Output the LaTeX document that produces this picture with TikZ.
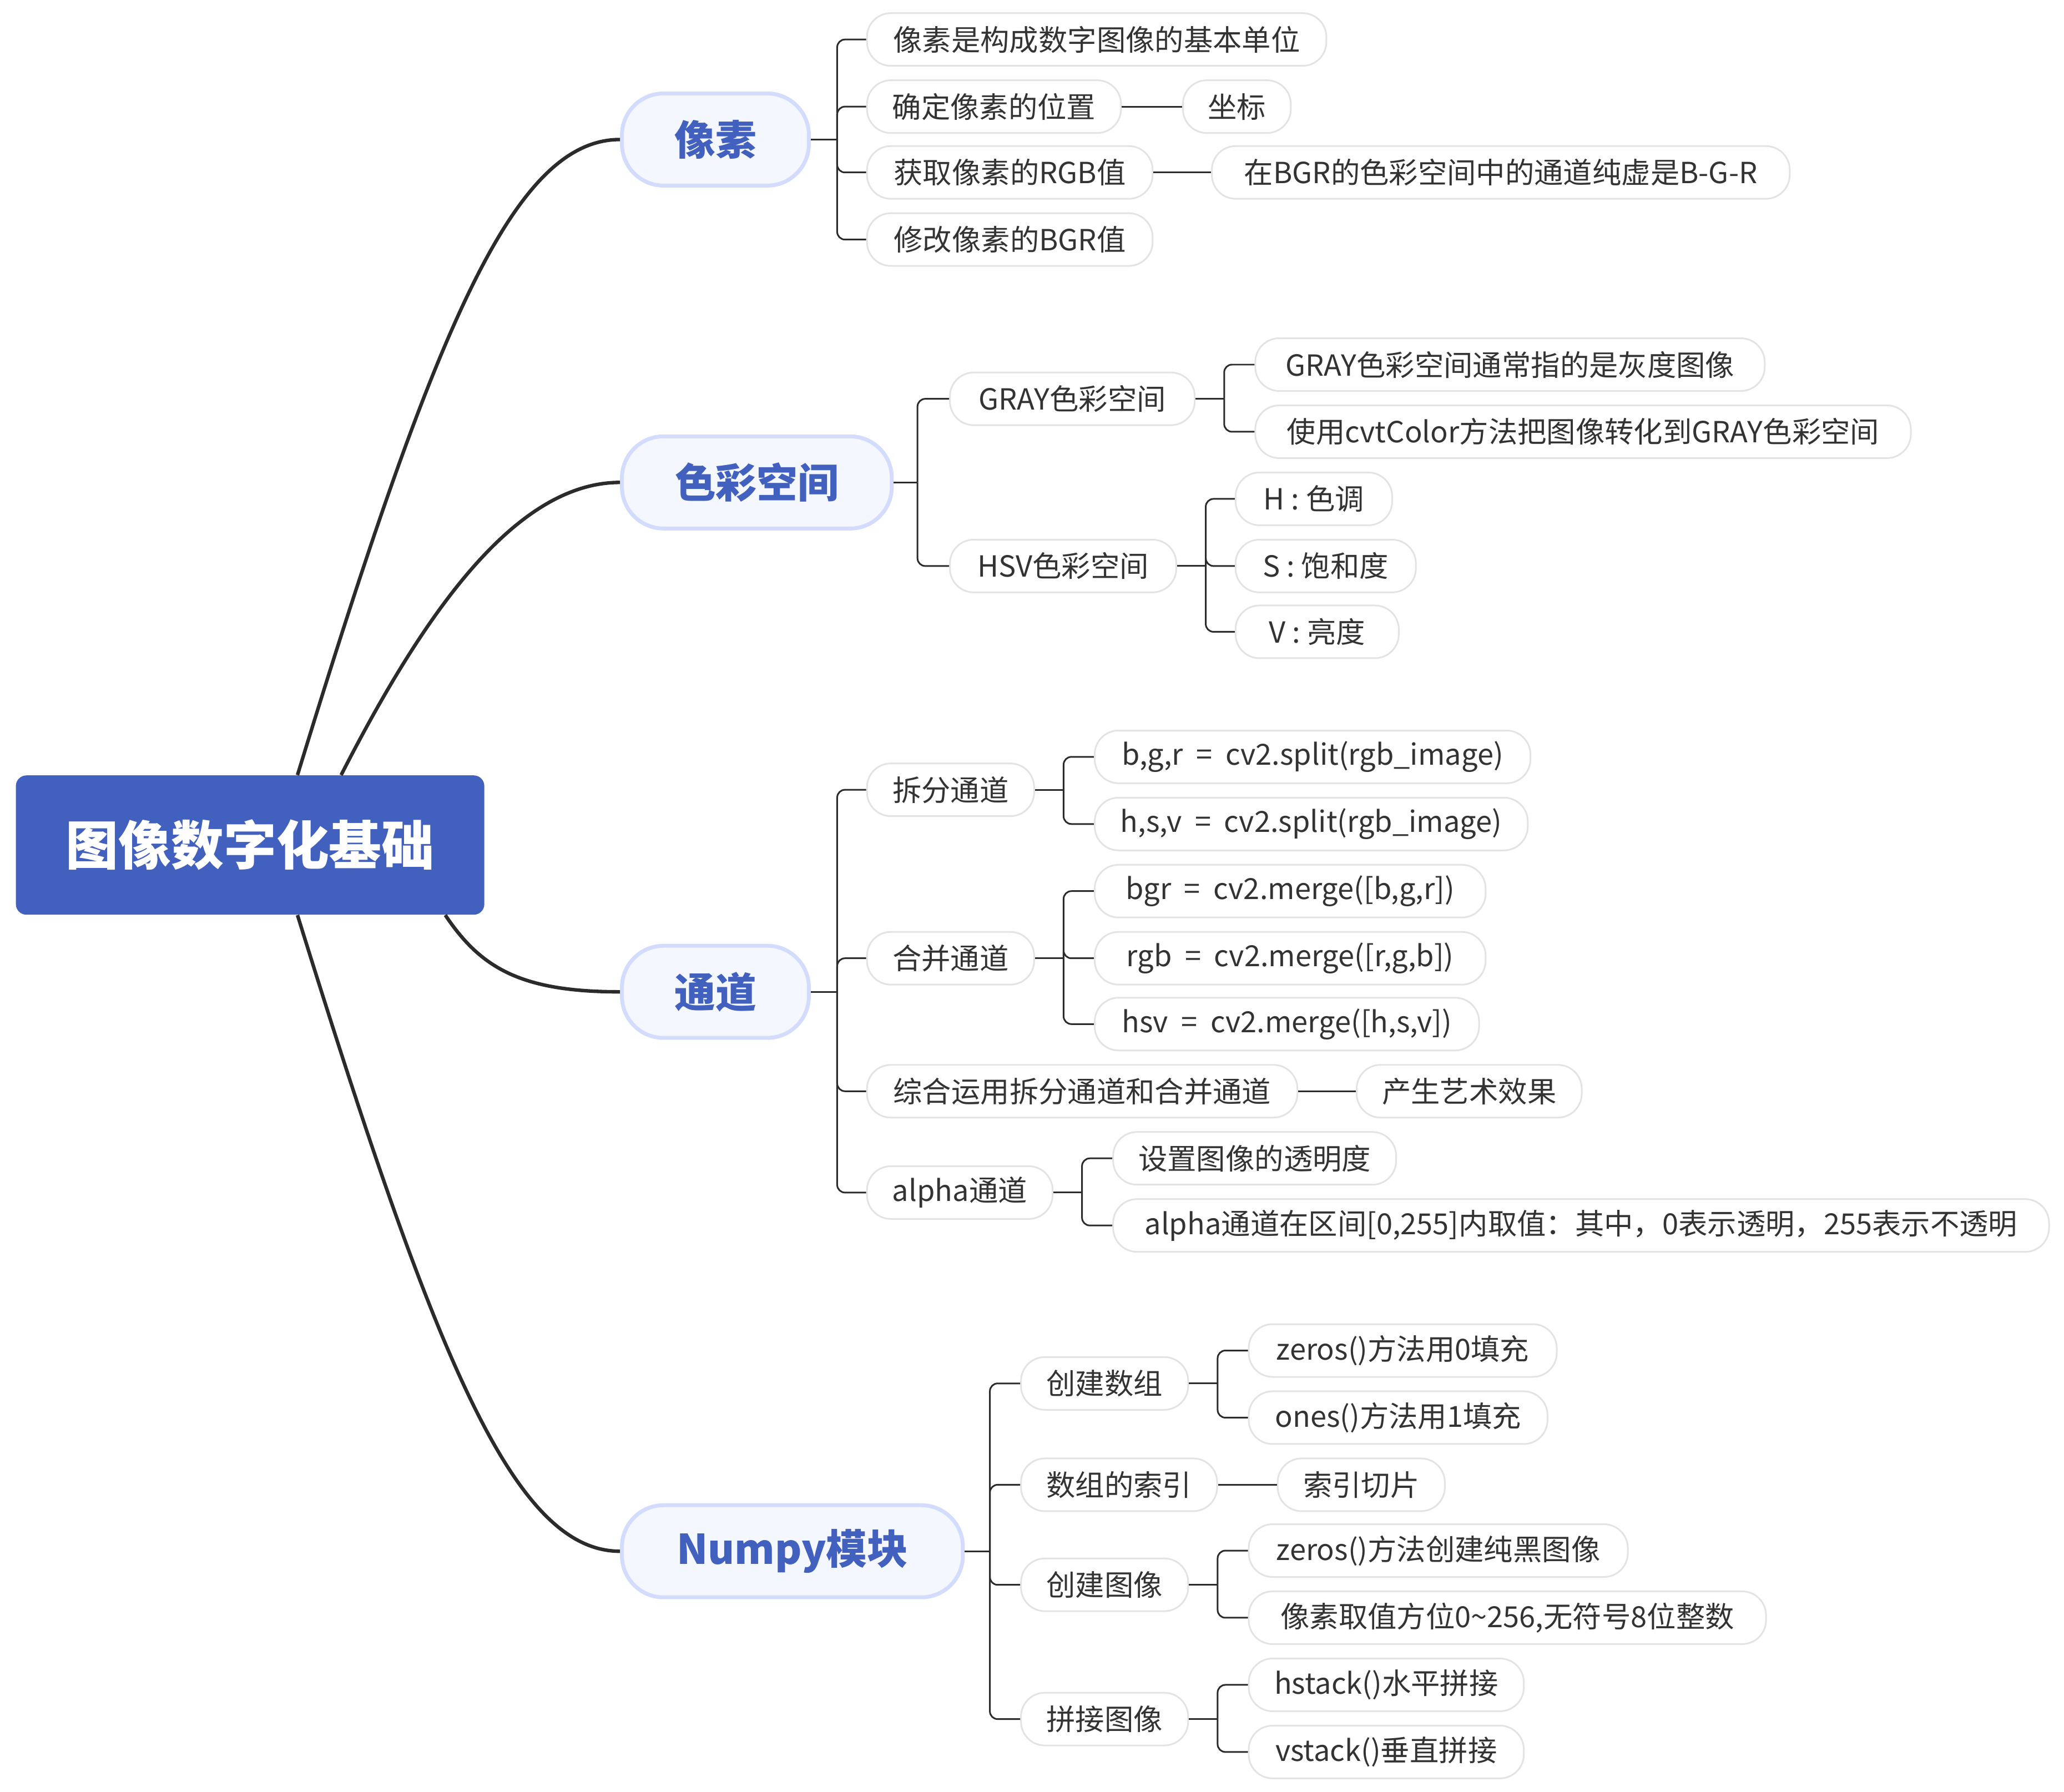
\documentclass[tikz,border=0pt]{standalone}
\usepackage{fontspec}
\setmainfont{Noto Sans CJK SC}
\usetikzlibrary{calc}
\definecolor{rootblue}{HTML}{4260BD}
\definecolor{topicfill}{HTML}{F5F7FF}
\definecolor{topicborder}{HTML}{D3DCFD}
\definecolor{leafgray}{HTML}{E3E3E3}
\definecolor{textgray}{HTML}{333333}
\definecolor{linedark}{HTML}{2B2B2B}
\newcommand{\eqsp}{\hspace{0.45em}=\hspace{0.45em}}
\begin{document}
\begin{tikzpicture}[x=0.23718mm,y=-0.23718mm,
  w/.style={minimum width=#1*0.23718mm},
  leaf/.style={draw=leafgray, line width=0.85pt, fill=white, rounded corners=4.3mm,
    minimum height=9.5mm, inner xsep=2mm, inner ysep=0pt, anchor=west,
    font=\fontsize{14.9}{16}\selectfont, text=textgray},
  topic/.style={draw=topicborder, line width=2pt, fill=topicfill, rounded corners=7.5mm,
    minimum height=16.6mm, inner xsep=2mm, anchor=west,
    font=\fontsize{21}{24}\selectfont\bfseries, text=rootblue},
  rootbox/.style={fill=rootblue, rounded corners=1.9mm, minimum width=84.4mm,
    minimum height=25.1mm, font=\fontsize{27}{30}\selectfont\bfseries, text=white},
  mainline/.style={draw=linedark, line width=1.8pt},
  sub/.style={draw=linedark, line width=0.85pt, rounded corners=1.4mm}]
\useasboundingbox (0,0) rectangle (1568,1361);

% root
\node[rootbox] (root) at (190,642) {图像数字化基础};

% topics
\node[topic, w=142] (t1) at (471,106) {像素};
\node[topic, w=205] (t2) at (471,366.5) {色彩空间};
\node[topic, w=142] (t3) at (471,753.5) {通道};
\node[topic, w=259] (t4) at (471,1178.5) {Numpy模块};

% 像素
\node[leaf, w=349] (a1) at (658,30) {像素是构成数字图像的基本单位};
\node[leaf, w=193] (a2) at (658,81) {确定像素的位置};
\node[leaf, w=82] (a2a) at (898,81) {坐标};
\node[leaf, w=217] (a3) at (658,131) {获取像素的RGB值};
\node[leaf, w=439] (a3a) at (920,131) {在BGR的色彩空间中的通道纯虚是B-G-R};
\node[leaf, w=217] (a4) at (658,182) {修改像素的BGR值};

% 色彩空间
\node[leaf, w=186] (b1) at (721,303) {GRAY色彩空间};
\node[leaf, w=387] (b1a) at (953,277) {GRAY色彩空间通常指的是灰度图像};
\node[leaf, w=498] (b1b) at (953,328) {使用cvtColor方法把图像转化到GRAY色彩空间};
\node[leaf, w=172] (b2) at (721,430) {HSV色彩空间};
\node[leaf, w=119] (b2a) at (938,379) {H : 色调};
\node[leaf, w=137] (b2b) at (938,430) {S : 饱和度};
\node[leaf, w=124] (b2c) at (938,480) {V : 亮度};

% 通道
\node[leaf, w=127] (c1) at (658,600) {拆分通道};
\node[leaf, w=331] (c1a) at (831,575) {b,g,r\eqsp cv2.split(rgb\_image)};
\node[leaf, w=329] (c1b) at (831,626) {h,s,v\eqsp cv2.split(rgb\_image)};
\node[leaf, w=127] (c2) at (658,728) {合并通道};
\node[leaf, w=297] (c2a) at (831,677) {bgr\eqsp cv2.merge([b,g,r])};
\node[leaf, w=297] (c2b) at (831,728) {rgb\eqsp cv2.merge([r,g,b])};
\node[leaf, w=292] (c2c) at (831,778) {hsv\eqsp cv2.merge([h,s,v])};
\node[leaf, w=327] (c3) at (658,829) {综合运用拆分通道和合并通道};
\node[leaf, w=171] (c3a) at (1030,829) {产生艺术效果};
\node[leaf, w=141] (c4) at (658,906) {alpha通道};
\node[leaf, w=215] (c4a) at (845,880) {设置图像的透明度};
\node[leaf, w=711] (c4b) at (845,931) {alpha通道在区间[0,255]内取值：其中，0表示透明，255表示不透明};

% Numpy模块
\node[leaf, w=127] (d1) at (775,1051) {创建数组};
\node[leaf, w=234] (d1a) at (948,1026) {zeros()方法用0填充};
\node[leaf, w=227] (d1b) at (948,1077) {ones()方法用1填充};
\node[leaf, w=149] (d2) at (775,1128) {数组的索引};
\node[leaf, w=127] (d2a) at (970,1128) {索引切片};
\node[leaf, w=127] (d3) at (775,1204) {创建图像};
\node[leaf, w=288] (d3a) at (948,1178) {zeros()方法创建纯黑图像};
\node[leaf, w=393] (d3b) at (948,1229) {像素取值方位0\textasciitilde256,无符号8位整数};
\node[leaf, w=127] (d4) at (775,1306) {拼接图像};
\node[leaf, w=209] (d4a) at (948,1280) {hstack()水平拼接};
\node[leaf, w=209] (d4b) at (948,1331) {vstack()垂直拼接};

% main curves
\draw[mainline] ($(root.north west)!0.601!(root.north east)$) .. controls (330,250) and (390,106) .. (t1.west);
\draw[mainline] ($(root.north west)!0.694!(root.north east)$) .. controls (320,470) and (390,366.5) .. (t2.west);
\draw[mainline] ($(root.south west)!0.916!(root.south east)$) .. controls (365,735) and (395,753.5) .. (t3.west);
\draw[mainline] ($(root.south west)!0.601!(root.south east)$) .. controls (330,1030) and (390,1178.5) .. (t4.west);

% junctions
\coordinate (ja) at (636,106);
\coordinate (jb) at (697,366.5);
\coordinate (jb1) at (930,303);
\coordinate (jb2) at (916,430);
\coordinate (jc) at (636,753.5);
\coordinate (jc1) at (808,600);
\coordinate (jc2) at (808,728);
\coordinate (jc4) at (822,906);
\coordinate (jd) at (752,1178.5);
\coordinate (jd1) at (925,1051);
\coordinate (jd3) at (925,1204);
\coordinate (jd4) at (925,1306);

% 像素 connectors
\draw[sub] (t1.east) -- (ja);
\foreach \n in {a1,a2,a3,a4} \draw[sub] (ja) |- (\n.west);
\draw[sub] (a2.east) -- (a2a.west);
\draw[sub] (a3.east) -- (a3a.west);

% 色彩空间 connectors
\draw[sub] (t2.east) -- (jb);
\foreach \n in {b1,b2} \draw[sub] (jb) |- (\n.west);
\draw[sub] (b1.east) -- (jb1);
\foreach \n in {b1a,b1b} \draw[sub] (jb1) |- (\n.west);
\draw[sub] (b2.east) -- (jb2);
\foreach \n in {b2a,b2b,b2c} \draw[sub] (jb2) |- (\n.west);

% 通道 connectors
\draw[sub] (t3.east) -- (jc);
\foreach \n in {c1,c2,c3,c4} \draw[sub] (jc) |- (\n.west);
\draw[sub] (c1.east) -- (jc1);
\foreach \n in {c1a,c1b} \draw[sub] (jc1) |- (\n.west);
\draw[sub] (c2.east) -- (jc2);
\foreach \n in {c2a,c2b,c2c} \draw[sub] (jc2) |- (\n.west);
\draw[sub] (c3.east) -- (c3a.west);
\draw[sub] (c4.east) -- (jc4);
\foreach \n in {c4a,c4b} \draw[sub] (jc4) |- (\n.west);

% Numpy connectors
\draw[sub] (t4.east) -- (jd);
\foreach \n in {d1,d2,d3,d4} \draw[sub] (jd) |- (\n.west);
\draw[sub] (d1.east) -- (jd1);
\foreach \n in {d1a,d1b} \draw[sub] (jd1) |- (\n.west);
\draw[sub] (d2.east) -- (d2a.west);
\draw[sub] (d3.east) -- (jd3);
\foreach \n in {d3a,d3b} \draw[sub] (jd3) |- (\n.west);
\draw[sub] (d4.east) -- (jd4);
\foreach \n in {d4a,d4b} \draw[sub] (jd4) |- (\n.west);
\end{tikzpicture}
\end{document}
